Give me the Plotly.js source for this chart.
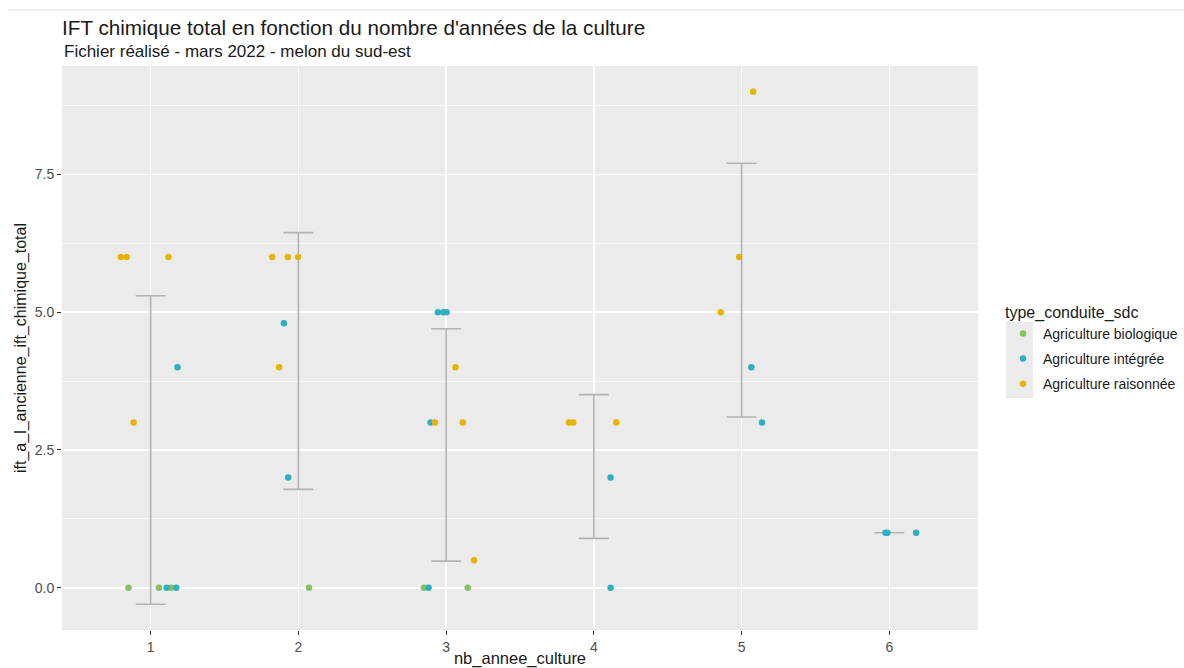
<!DOCTYPE html>
<html>
<head>
<meta charset="utf-8">
<script src="https://cdn.plot.ly/plotly-3.0.1.min.js"></script>
<style>
  html, body { margin: 0; padding: 0; background: #ffffff; }
  #chart { width: 1184px; height: 668px; }
</style>
</head>
<body>
<div id="chart"></div>
<script>
// Year-of-crop categories shown on the x axis
const years = [1, 2, 3, 4, 5, 6];
const yearLabels = ['1', '2', '3', '4', '5', '6'];

// Agriculture biologique: jittered x position, IFT value
const bioX = [0.850, 1.056, 1.139, 2.072, 2.850, 3.146];
const bioY = [0, 0, 0, 0, 0, 0];

// Agriculture intégrée
const integX = [1.108, 1.173, 1.182, 1.902, 1.931, 2.944, 2.982, 3.003, 2.895, 2.881,
                4.113, 4.113, 5.066, 5.138, 5.974, 5.987, 6.181];
const integY = [0, 0, 4, 4.8, 2, 5, 5, 5, 3, 0,
                2, 0, 4, 3, 1, 1, 1];

// Agriculture raisonnée
const raisX = [0.798, 0.838, 1.121, 0.885, 1.823, 1.929, 1.998, 1.870,
               3.063, 2.924, 3.113, 3.189, 3.832, 3.861, 4.151, 5.078, 4.983, 4.859];
const raisY = [6, 6, 6, 3, 6, 6, 6, 4,
               4, 3, 3, 0.5, 3, 3, 3, 9, 6, 5];

const groupNames = ['Agriculture biologique', 'Agriculture intégrée', 'Agriculture raisonnée'];
const groupColors = ['#86c35f', '#2eafc2', '#e6b400'];

// Mean ± standard deviation of every year, computed from all points of that year
function summary() {
  const allX = bioX.concat(integX, raisX);
  const allY = bioY.concat(integY, raisY);
  const means = [], sds = [];
  years.forEach(function (yr) {
    const vals = allY.filter(function (v, i) { return Math.round(allX[i]) === yr; });
    const n = vals.length;
    const m = vals.reduce(function (a, b) { return a + b; }, 0) / n;
    const ss = vals.reduce(function (a, b) { return a + (b - m) * (b - m); }, 0);
    means.push(m);
    sds.push(n > 1 ? Math.sqrt(ss / (n - 1)) : 0);
  });
  return { means: means, sds: sds };
}
const stats = summary();

const traces = [
  {
    type: 'scatter', mode: 'markers',
    x: years, y: stats.means,
    marker: { size: 1, opacity: 0 },
    error_y: { type: 'data', array: stats.sds, visible: true,
               color: '#b3b3b3', thickness: 1.6, width: 15 },
    showlegend: false, hoverinfo: 'skip'
  },
  {
    type: 'scatter', mode: 'markers', name: groupNames[0], legendgroup: 'g0',
    x: bioX, y: bioY, marker: { color: groupColors[0], size: 6.5 }
  },
  {
    type: 'scatter', mode: 'markers', name: groupNames[1], legendgroup: 'g1',
    x: integX, y: integY, marker: { color: groupColors[1], size: 6.5 }
  },
  {
    type: 'scatter', mode: 'markers', name: groupNames[2], legendgroup: 'g2',
    x: raisX, y: raisY, marker: { color: groupColors[2], size: 6.5 }
  }
];

const L = 62, R = 978, T = 66, B = 630, W = 1184, H = 668;
const px = function (x) { return (x - L) / (R - L); };
const py = function (y) { return (B - y) / (B - T); };

const layout = {
  width: W, height: H,
  margin: { l: L, r: W - R, t: T, b: H - B, pad: 0, autoexpand: false },
  paper_bgcolor: '#ffffff',
  plot_bgcolor: '#ebebeb',
  font: { family: 'Liberation Sans, Arial, sans-serif', color: '#1a1a1a' },
  title: {
    text: "IFT chimique total en fonction du nombre d'années de la culture",
    font: { size: 20.7, color: '#1a1a1a' },
    xref: 'paper', x: 0, xanchor: 'left',
    yref: 'container', y: 1 - 28 / H, yanchor: 'middle'
  },
  annotations: [
    {
      text: 'Fichier réalisé - mars 2022 - melon du sud-est',
      xref: 'paper', yref: 'paper', x: 0, y: py(52),
      xanchor: 'left', yanchor: 'middle', showarrow: false,
      font: { size: 17, color: '#1a1a1a' }
    }
  ],
  xaxis: {
    range: [0.4, 6.6],
    tickvals: years, ticktext: yearLabels,
    showgrid: true, gridcolor: '#ffffff', gridwidth: 1.4,
    zeroline: false, showline: false,
    ticks: 'outside', ticklen: 4, tickwidth: 1, tickcolor: '#333333',
    tickfont: { size: 14, color: '#4d4d4d' },
    title: { text: 'nb_annee_culture', font: { size: 16.5, color: '#1a1a1a' }, standoff: 4 },
    automargin: false, fixedrange: true
  },
  yaxis: {
    range: [-0.765, 9.465],
    tickvals: [0, 2.5, 5, 7.5], ticktext: ['0.0', '2.5', '5.0', '7.5'],
    showgrid: true, gridcolor: '#ffffff', gridwidth: 1.4,
    minor: { tickvals: [1.25, 3.75, 6.25, 8.75], showgrid: true,
             gridcolor: '#ffffff', gridwidth: 0.7, ticks: '' },
    zeroline: false, showline: false,
    ticks: 'outside', ticklen: 4, tickwidth: 1, tickcolor: '#333333',
    tickfont: { size: 14, color: '#4d4d4d' },
    title: { text: 'ift_a_l_ancienne_ift_chimique_total', font: { size: 16, color: '#1a1a1a' }, standoff: 4 },
    automargin: false, fixedrange: true
  },
  showlegend: true,
  legend: {
    x: px(1003), xanchor: 'left',
    y: py(297), yanchor: 'top',
    bgcolor: 'rgba(0,0,0,0)',
    tracegroupgap: 4,
    title: { text: 'type_conduite_sdc', font: { size: 16, color: '#1a1a1a' } },
    font: { size: 14, color: '#1a1a1a' }
  },
  shapes: [
    { type: 'line', xref: 'paper', yref: 'paper',
      x0: px(8), x1: px(1184), y0: py(10), y1: py(10),
      line: { color: '#efeff3', width: 2 } },
    { type: 'rect', xref: 'paper', yref: 'paper', layer: 'below',
      x0: px(1006), x1: px(1033), y0: py(398), y1: py(322),
      fillcolor: '#ebebeb', line: { width: 0 } }
  ]
};

Plotly.newPlot('chart', traces, layout, { staticPlot: true, displayModeBar: false });
</script>
</body>
</html>
